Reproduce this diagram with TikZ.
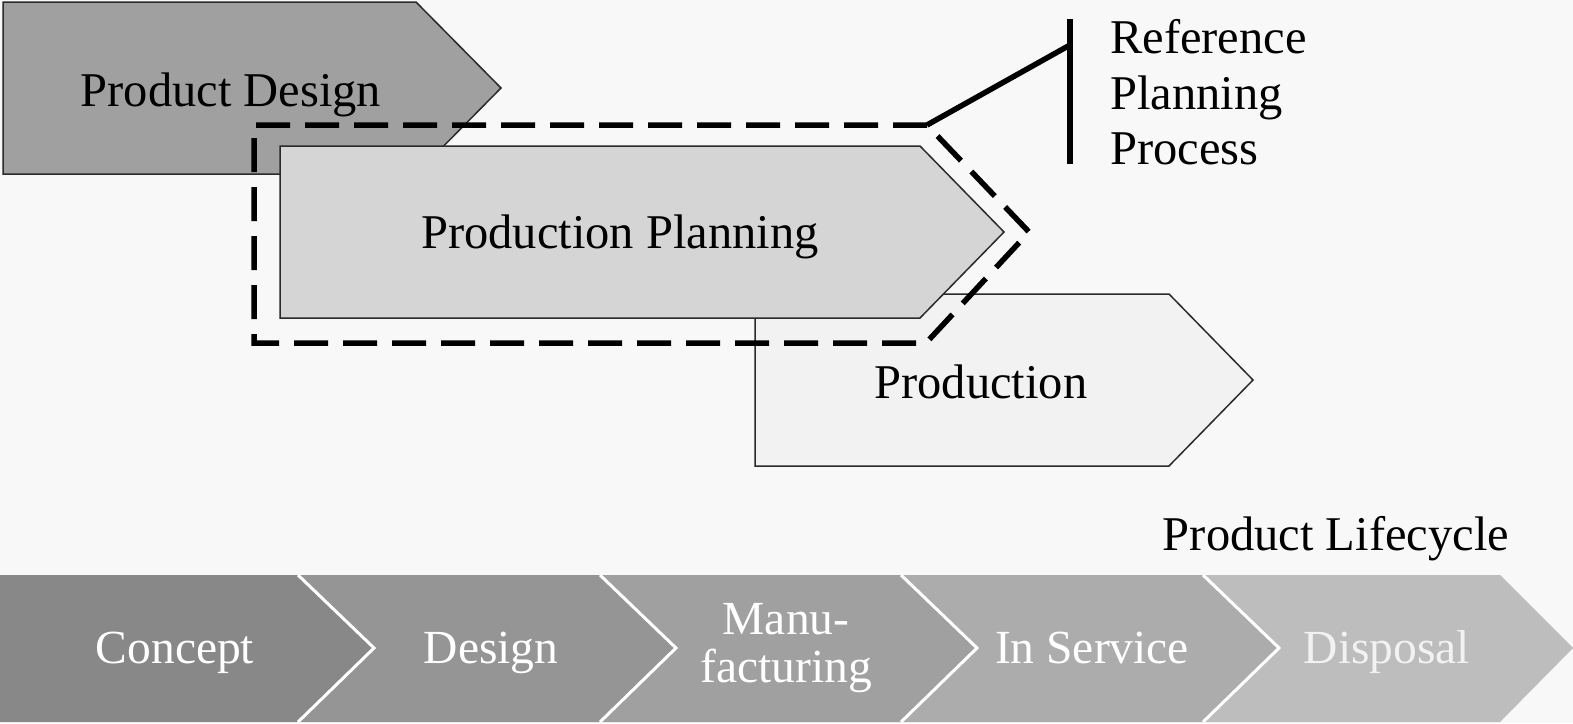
\documentclass[tikz,border=0pt]{standalone}
\usepackage{fontspec}
\setmainfont{Liberation Serif}
\definecolor{bgc}{HTML}{F8F8F8}
\definecolor{pdfill}{HTML}{A0A0A0}
\definecolor{ppfill}{HTML}{D5D5D5}
\definecolor{prfill}{HTML}{F2F2F2}
\definecolor{edgec}{HTML}{2A2A2A}
\definecolor{ca}{HTML}{888888}
\definecolor{cb}{HTML}{959595}
\definecolor{cc}{HTML}{A0A0A0}
\definecolor{cd}{HTML}{ACACAC}
\definecolor{ce}{HTML}{BDBDBD}
\begin{document}
\begin{tikzpicture}[x=1pt,y=-1pt,
  phase/.style={draw=edgec,line width=1.5pt,line join=miter},
  frame/.style={line width=5.5pt,dash pattern=on 34pt off 15pt,line join=miter},
  bracketline/.style={line width=5.5pt},
  sep/.style={draw=white,line width=3pt},
  lbl/.style={inner sep=0pt,font=\fontsize{48.5}{55}\selectfont},
  wlbl/.style={lbl,text=white,align=center,font=\fontsize{47.5}{48}\selectfont}]
\useasboundingbox (0,0) rectangle (1573,723);
\fill[bgc] (0,0) rectangle (1573,723);
% upper process shapes
\filldraw[phase,fill=pdfill] (3,2) -- (416,2) -- (501,88) -- (416,174) -- (3,174) -- cycle;
\filldraw[phase,fill=prfill] (755,294) -- (1169,294) -- (1253,380) -- (1169,466) -- (755,466) -- cycle;
\filldraw[phase,fill=ppfill] (280,146) -- (920,146) -- (1004,232) -- (920,318) -- (280,318) -- cycle;
\node[lbl,anchor=base] (pd) at (231,106) {Product Design};
\node[lbl,anchor=base] (pp) at (620,248) {Production Planning};
\node[lbl,anchor=base] (pr) at (981,398) {Production};
% dashed frame
\coordinate (fc) at (927,125);
\draw[frame] (fc) -- (254,125) -- (254,343) -- (926,343) -- (1029,232) -- cycle;
% bracket
\coordinate (bt) at (1070,19);
\coordinate (bb) at (1070,164);
\coordinate (bj) at (1070,45);
\draw[bracketline] (bt) -- (bb);
\draw[bracketline] (fc) -- (bj);
\node[lbl,anchor=base west] (r1) at (1110,53) {Reference};
\node[lbl,anchor=base west] (r2) at (1110,109) {Planning};
\node[lbl,anchor=base west] (r3) at (1110,164) {Process};
% lifecycle
\node[lbl,anchor=base] (plc) at (1336,550) {Product Lifecycle};
\fill[ca] (0,575) -- (298,575) -- (374,648) -- (298,722) -- (0,722) -- cycle;
\fill[cb] (298,575) -- (600,575) -- (676,648) -- (600,722) -- (298,722) -- (374,648) -- cycle;
\fill[cc] (600,575) -- (901,575) -- (977,648) -- (901,722) -- (600,722) -- (676,648) -- cycle;
\fill[cd] (901,575) -- (1203,575) -- (1279,648) -- (1203,722) -- (901,722) -- (977,648) -- cycle;
\fill[ce] (1203,575) -- (1500,575) -- (1573,648) -- (1500,722) -- (1203,722) -- (1279,648) -- cycle;
\draw[sep] (298,575) -- (374,648) -- (298,722);
\draw[sep] (600,575) -- (676,648) -- (600,722);
\draw[sep] (901,575) -- (977,648) -- (901,722);
\draw[sep] (1203,575) -- (1279,648) -- (1203,722);
\node[wlbl,anchor=base] (l1) at (175,663) {Concept};
\node[wlbl,anchor=base] (l2) at (491,663) {Design};
\node[wlbl] (l3) at (786,648) {Manu-\\facturing};
\node[wlbl,anchor=base] (l4) at (1092,663) {In Service};
\node[wlbl,anchor=base,text=white!95!black] (l5) at (1387,663) {Disposal};
\end{tikzpicture}
\end{document}
